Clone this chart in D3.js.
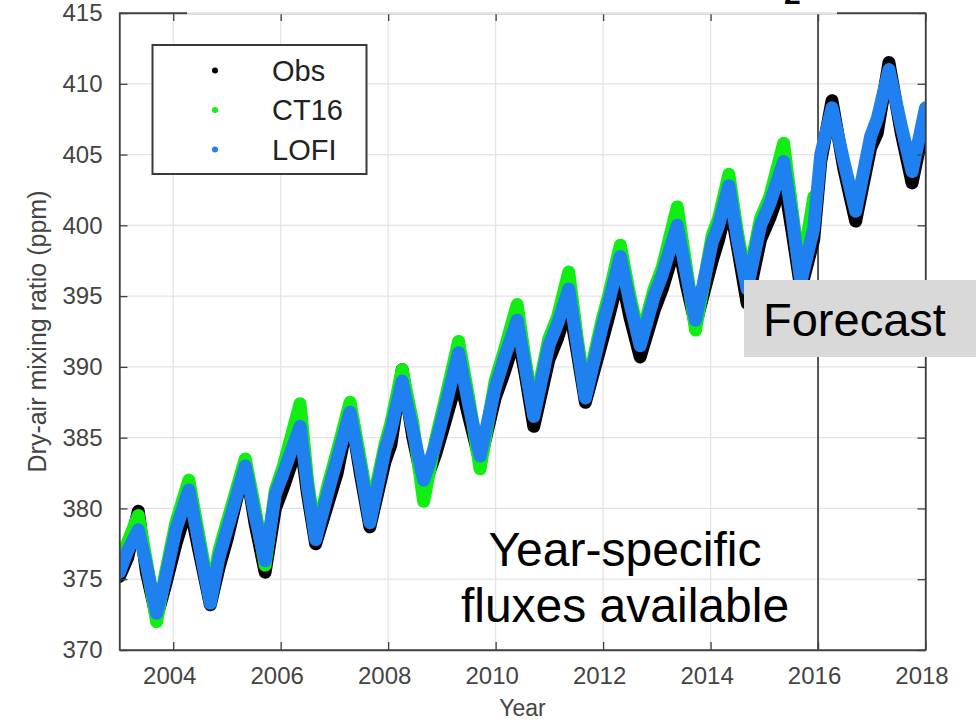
<!DOCTYPE html>
<html>
<head>
<meta charset="utf-8">
<script src="https://cdn.jsdelivr.net/npm/d3@7"></script>
<style>
  body { margin: 0; background: #fff; }
  svg { display: block; font-family: "Liberation Sans", Arial, sans-serif; }
</style>
</head>
<body>
<svg id="chart"></svg>
<script>
// sample dates (decimal year)
const dates = [
  2003.00, 2003.15, 2003.35, 2003.50, 2003.69, 2003.85,
  2004.05, 2004.29, 2004.48, 2004.69, 2004.85,
  2005.00, 2005.34, 2005.52, 2005.71, 2005.90,
  2006.05, 2006.36, 2006.50, 2006.65, 2006.89,
  2007.05, 2007.29, 2007.48, 2007.66, 2007.94,
  2008.05, 2008.26, 2008.46, 2008.66, 2008.88,
  2009.05, 2009.31, 2009.50, 2009.71, 2009.99,
  2010.15, 2010.40, 2010.55, 2010.71, 2010.99,
  2011.15, 2011.36, 2011.52, 2011.67, 2011.98,
  2012.10, 2012.32, 2012.50, 2012.69, 2012.95,
  2013.10, 2013.38, 2013.55, 2013.72, 2014.03,
  2014.15, 2014.34, 2014.50, 2014.68, 2014.93,
  2015.10, 2015.36, 2015.52, 2015.68, 2015.92,
  2016.05, 2016.26, 2016.48, 2016.70, 2016.98,
  2017.10, 2017.32, 2017.55, 2017.75, 2018.00
];

const obsValues = [
  375.2, 376.5, 379.8, 375.5, 372.3, 374.5,
  377.5, 380.5, 377.0, 373.2, 375.8,
  377.8, 383.2, 379.0, 375.5, 380.0,
  381.5, 385.0, 381.0, 377.5, 380.5,
  382.5, 387.0, 382.5, 378.7, 383.3,
  384.5, 389.8, 385.0, 381.5, 383.8,
  386.0, 389.5, 386.5, 383.3, 387.8,
  389.5, 392.5, 389.5, 385.8, 390.5,
  392.0, 394.5, 391.0, 387.5, 391.8,
  393.5, 396.8, 393.5, 390.7, 394.0,
  395.5, 399.0, 395.8, 393.0, 397.5,
  399.0, 402.0, 398.5, 394.5, 399.0,
  400.5, 403.3, 399.5, 395.5, 399.0,
  404.5, 408.8, 404.0, 400.3, 405.5,
  406.5, 411.5, 406.5, 403.0, 407.5
];

// CT16 stops at the start of the forecast period
const ct16Values = [
  375.8, 377.6, 379.5, 376.3, 372.0, 375.3,
  379.0, 382.0, 378.0, 373.6, 377.0,
  379.0, 383.5, 380.0, 376.0, 381.3,
  383.0, 387.4, 382.0, 378.0, 381.8,
  384.0, 387.5, 383.5, 379.5, 384.5,
  386.0, 389.8, 386.0, 380.5, 384.8,
  387.5, 391.8, 387.8, 382.8, 389.0,
  391.0, 394.4, 390.5, 386.8, 392.0,
  393.5, 396.7, 392.0, 388.0, 393.3,
  395.0, 398.6, 395.0, 391.8, 395.5,
  397.0, 401.3, 397.0, 392.6, 399.3,
  400.5, 403.6, 399.5, 395.8, 400.5,
  402.0, 405.8, 401.0, 396.3, 402.0,
  null, null, null, null, null,
  null, null, null, null, null
];

const lofiValues = [
  375.5, 377.0, 378.5, 376.0, 372.6, 375.0,
  378.5, 381.3, 377.5, 373.3, 376.5,
  378.5, 383.0, 379.5, 376.3, 381.0,
  382.5, 385.8, 381.5, 377.8, 381.3,
  383.5, 386.8, 383.0, 379.0, 384.1,
  385.5, 389.0, 385.5, 382.0, 384.5,
  387.0, 391.0, 387.3, 383.7, 388.5,
  390.5, 393.3, 390.0, 386.5, 391.5,
  393.0, 395.5, 391.5, 387.8, 392.8,
  394.5, 397.8, 394.5, 391.5, 395.0,
  396.5, 400.0, 396.5, 393.3, 398.8,
  400.0, 402.8, 399.0, 395.5, 400.0,
  401.5, 404.5, 400.5, 396.0, 399.8,
  405.0, 408.3, 404.5, 401.0, 406.3,
  407.5, 411.0, 407.0, 403.8, 408.3
];

const seriesNames = ["Obs", "CT16", "LOFI"];
const seriesColors = ["#000000", "#11ee11", "#1f80f0"];
const xTicks = [2004, 2006, 2008, 2010, 2012, 2014, 2016, 2018];
const yTicks = [370, 375, 380, 385, 390, 395, 400, 405, 410, 415];
const forecastStart = 2016;

const W = 976, H = 723;
const margin = { top: 13, right: 50.5, bottom: 73, left: 119.5 };

const svg = d3.select("#chart").attr("width", W).attr("height", H);

const x = d3.scaleLinear().domain([2003, 2018]).range([margin.left, W - margin.right]);
const y = d3.scaleLinear().domain([370, 415]).range([H - margin.bottom, margin.top]);
const [x0, x1] = x.range();
const [y0, y1] = y.range();

// grid
svg.append("g").selectAll("line").data(xTicks).join("line")
  .attr("x1", d => x(d)).attr("x2", d => x(d))
  .attr("y1", y1).attr("y2", y0)
  .attr("stroke", "#e3e3e3").attr("stroke-width", 1.2);
svg.append("g").selectAll("line").data(yTicks).join("line")
  .attr("x1", x0).attr("x2", x1)
  .attr("y1", d => y(d)).attr("y2", d => y(d))
  .attr("stroke", "#e3e3e3").attr("stroke-width", 1.2);

// forecast divider
svg.append("line")
  .attr("x1", x(forecastStart)).attr("x2", x(forecastStart))
  .attr("y1", y1).attr("y2", y0)
  .attr("stroke", "#555").attr("stroke-width", 2);

// series, drawn obs first so LOFI sits on top
svg.append("clipPath").attr("id", "clip")
  .append("rect").attr("x", x0).attr("y", y1).attr("width", x1 - x0).attr("height", y0 - y1);

const line = d3.line()
  .defined(d => d[1] != null)
  .x(d => x(d[0]))
  .y(d => y(d[1]));

const allSeries = [obsValues, ct16Values, lofiValues];
const gData = svg.append("g").attr("clip-path", "url(#clip)");
allSeries.forEach((vals, i) => {
  const pts = dates.map((t, k) => [t, vals[k]]);
  gData.append("path")
    .attr("d", line(pts))
    .attr("fill", "none")
    .attr("stroke", seriesColors[i])
    .attr("stroke-width", 13)
    .attr("stroke-linejoin", "round")
    .attr("stroke-linecap", "round");
});

// axes box
const axisColor = "#404040";
svg.append("rect")
  .attr("x", x0).attr("y", y1).attr("width", x1 - x0).attr("height", y0 - y1)
  .attr("fill", "none").attr("stroke", axisColor).attr("stroke-width", 1.3);

const xAxis = svg.append("g")
  .attr("transform", `translate(0,${y0})`)
  .call(d3.axisBottom(x).tickValues(xTicks).tickFormat(d3.format("d"))
    .tickSizeInner(-8).tickSizeOuter(0).tickPadding(17));
xAxis.selectAll("text").attr("dx", -4);

const yAxis = svg.append("g")
  .attr("transform", `translate(${x0},0)`)
  .call(d3.axisLeft(y).tickValues(yTicks)
    .tickSizeInner(-8).tickSizeOuter(0).tickPadding(17));

svg.append("g").attr("transform", `translate(0,${y1})`)
  .call(d3.axisTop(x).tickValues(xTicks).tickFormat("").tickSizeInner(-8).tickSizeOuter(0));
svg.append("g").attr("transform", `translate(${x1},0)`)
  .call(d3.axisRight(y).tickValues(yTicks).tickFormat("").tickSizeInner(-8).tickSizeOuter(0));

svg.selectAll(".domain").attr("stroke", axisColor).attr("stroke-width", 1.3);
svg.selectAll(".tick line").attr("stroke", axisColor).attr("stroke-width", 1.3);
[xAxis, yAxis].forEach(a => a.selectAll("text")
  .attr("fill", "#444").style("font-size", "24px")
  .style("font-family", "'Liberation Sans', Arial, sans-serif"));

// axis titles
svg.append("text")
  .attr("x", (x0 + x1) / 2).attr("y", 716)
  .attr("text-anchor", "middle")
  .attr("fill", "#444").style("font-size", "23px")
  .text("Year");

svg.append("text")
  .attr("transform", `translate(46,${(y0 + y1) / 2}) rotate(-90)`)
  .attr("text-anchor", "middle")
  .attr("fill", "#444").style("font-size", "25px")
  .text("Dry-air mixing ratio (ppm)");

// legend
const legend = svg.append("g");
legend.append("rect")
  .attr("x", 152.5).attr("y", 45).attr("width", 214).attr("height", 129)
  .attr("fill", "#fff").attr("stroke", "#3a3a3a").attr("stroke-width", 2);
seriesNames.forEach((name, i) => {
  const ly = 70.5 + i * 39.5;
  legend.append("circle").attr("cx", 215).attr("cy", ly).attr("r", 3).attr("fill", seriesColors[i]);
  legend.append("text")
    .attr("x", 272).attr("y", ly).attr("dy", "0.35em")
    .attr("fill", "#222").style("font-size", "29px")
    .text(name);
});

// slide overlay bits
svg.append("rect")
  .attr("x", 187).attr("y", 0).attr("width", 650).attr("height", 14.3)
  .attr("fill", "#fff").attr("fill-opacity", 0.85);
svg.append("text")
  .attr("x", 784).attr("y", 4)
  .attr("fill", "#000").style("font-size", "30px").style("font-weight", "bold")
  .text("2");

// annotations
svg.append("rect")
  .attr("x", 744).attr("y", 280).attr("width", W - 744).attr("height", 77)
  .attr("fill", "#d9d9d9");
svg.append("text")
  .attr("x", 763).attr("y", 336)
  .attr("fill", "#000").style("font-size", "47px")
  .text("Forecast");

const note = svg.append("text")
  .attr("text-anchor", "middle")
  .attr("fill", "#000").style("font-size", "48px");
note.append("tspan").attr("x", 625).attr("y", 566).text("Year-specific");
note.append("tspan").attr("x", 625).attr("y", 622).text("fluxes available");
</script>
</body>
</html>
